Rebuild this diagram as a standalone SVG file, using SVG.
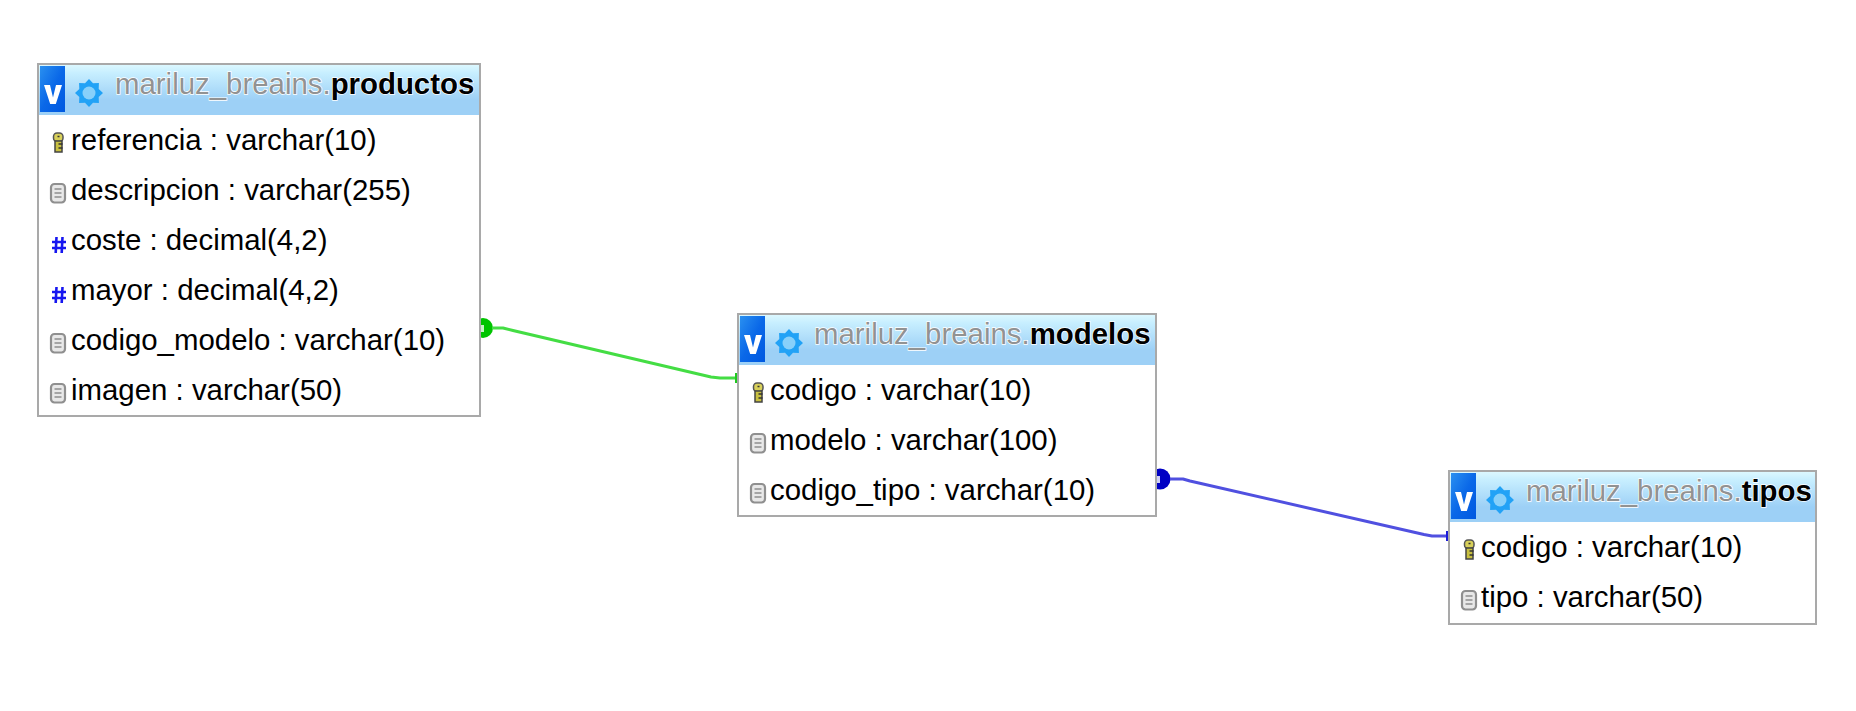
<svg xmlns="http://www.w3.org/2000/svg" width="1856" height="711" viewBox="0 0 1856 711">
<style>
text{font-family:"Liberation Sans",Arial,sans-serif}
.box{fill:#fff;stroke:#a9a9a9;stroke-width:2}
.hd{fill:url(#hg)}
.ttl{font-size:29.4px;fill:#929292;paint-order:stroke;stroke:#fff;stroke-width:1.4px}
.ttl tspan{font-weight:bold;fill:#000}
.row{font-size:29.4px;fill:#000}
.con{fill:none;stroke-width:3;stroke-linejoin:round}
</style>
<defs>
<linearGradient id="hg" x1="0" y1="0" x2="0" y2="1"><stop offset="0" stop-color="#dcf8ff"/><stop offset=".15" stop-color="#c8efff"/><stop offset=".7" stop-color="#9dd0f6"/><stop offset="1" stop-color="#9dd0f6"/></linearGradient>
<linearGradient id="vg" x1="0" y1="0" x2="1" y2="1"><stop offset="0" stop-color="#2a90f0"/><stop offset=".5" stop-color="#0a68e8"/><stop offset="1" stop-color="#0058e0"/></linearGradient>
<filter id="b" x="-30%" y="-30%" width="160%" height="160%"><feGaussianBlur stdDeviation=".7"/></filter>
<filter id="b2" x="-30%" y="-30%" width="160%" height="160%"><feGaussianBlur stdDeviation=".5"/></filter>
<g id="logo">
<rect x="1" y="0" width="25" height="46" fill="url(#vg)"/>
<path d="M5 19h6l3 12.500 3-12.500h6l-6.200 19h-5.600z" fill="#fff"/>
<g filter="url(#b2)">
<path d="M64 27L59.700 23L59.900 17.100L54 17.300L50 13L46 17.300L40.100 17.100L40.300 23L36 27L40.300 31L40.100 36.900L46 36.700L50 41L54 36.700L59.900 36.900L59.700 31Z" fill="#22a2f6"/>
<circle cx="50" cy="27" r="6.500" fill="#88d0fa"/>
</g>
</g>
<g id="key" filter="url(#b)">
<rect x="1.500" y="0" width="9.500" height="8.500" rx="3.500" fill="#d8d05a" stroke="#555" stroke-width="1.500"/>
<rect x="3" y="8" width="7" height="11" fill="#c8c040" stroke="#444" stroke-width="1.500"/>
<path d="M5.500 3.500h2M6.500 11h4M6.500 15h4" stroke="#333" stroke-width="1.300"/>
</g>
<g id="doc" filter="url(#b)">
<rect x="1" y="1" width="14" height="18.500" rx="3.500" fill="#e8e8e8" stroke="#8f8f8f" stroke-width="2.200"/>
<path d="M4.500 6h7M4.500 10h7M4.500 14h7" stroke="#8f8f8f" stroke-width="1.500"/>
</g>
<g id="num" filter="url(#b2)">
<path d="M4.500 0l-.8 16M10.500 0l-.8 16M0 5h14M0 11h14" fill="none" stroke="#1818f0" stroke-width="2.600"/>
</g>
</defs>
<g id="connectors">
<g id="c1">
<circle cx="483" cy="328" r="10" fill="#00c400"/>
<rect x="470" y="316" width="11" height="24" fill="#fff"/>
<rect x="481" y="325" width="3" height="7" fill="#c8f4c8"/>
<path class="con" stroke="#44dd44" d="M492 328H503L513 330.500L711 377L720 378H737"/>
<rect x="735" y="373" width="3" height="10" fill="#1fc81f"/>
</g>
<g id="c2">
<circle cx="1160" cy="479" r="10.500" fill="#0000c4"/>
<rect x="1146" y="467" width="11" height="24" fill="#fff"/>
<rect x="1157" y="476" width="3" height="7" fill="#d0d0f8"/>
<path class="con" stroke="#5050e0" d="M1170 479H1183L1190 481L1424 534.500L1432 536H1448"/>
<rect x="1446" y="531" width="3" height="10" fill="#1c1cd8"/>
</g>
</g>
<g id="productos">
<rect class="box" x="38" y="64" width="442" height="352"/>
<rect class="hd" x="39" y="65" width="440" height="50"/>
<use href="#logo" x="39" y="66"/>
<text class="ttl" x="115" y="94">mariluz_breains.<tspan>productos</tspan></text>
<use href="#key" x="52" y="133"/><text class="row" x="71" y="150">referencia : varchar(10)</text>
<use href="#doc" x="50" y="183"/><text class="row" x="71" y="200">descripcion : varchar(255)</text>
<use href="#num" x="52" y="237"/><text class="row" x="71" y="250">coste : decimal(4,2)</text>
<use href="#num" x="52" y="287"/><text class="row" x="71" y="300">mayor : decimal(4,2)</text>
<use href="#doc" x="50" y="333"/><text class="row" x="71" y="350">codigo_modelo : varchar(10)</text>
<use href="#doc" x="50" y="383"/><text class="row" x="71" y="400">imagen : varchar(50)</text>
</g>
<g id="modelos">
<rect class="box" x="738" y="314" width="418" height="202"/>
<rect class="hd" x="739" y="315" width="416" height="50"/>
<use href="#logo" x="739" y="316"/>
<text class="ttl" x="814" y="344">mariluz_breains.<tspan>modelos</tspan></text>
<use href="#key" x="752" y="383"/><text class="row" x="770" y="400">codigo : varchar(10)</text>
<use href="#doc" x="750" y="433"/><text class="row" x="770" y="450">modelo : varchar(100)</text>
<use href="#doc" x="750" y="483"/><text class="row" x="770" y="500">codigo_tipo : varchar(10)</text>
</g>
<g id="tipos">
<rect class="box" x="1449" y="471" width="367" height="153"/>
<rect class="hd" x="1450" y="472" width="365" height="50"/>
<use href="#logo" x="1450" y="473"/>
<text class="ttl" x="1526" y="501">mariluz_breains.<tspan>tipos</tspan></text>
<use href="#key" x="1463" y="540"/><text class="row" x="1481" y="557">codigo : varchar(10)</text>
<use href="#doc" x="1461" y="590"/><text class="row" x="1481" y="607">tipo : varchar(50)</text>
</g>
</svg>
